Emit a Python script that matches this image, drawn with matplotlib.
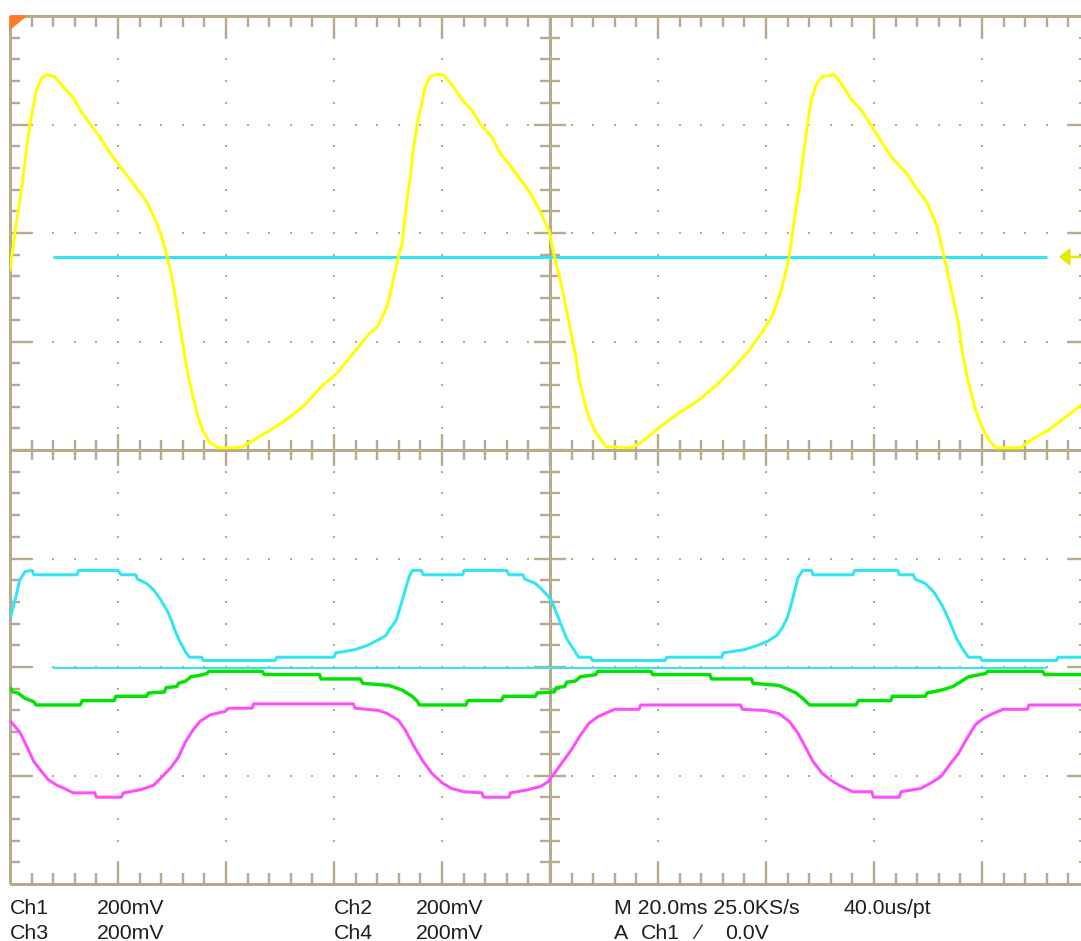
import matplotlib
matplotlib.use("Agg")
import matplotlib.pyplot as plt
from matplotlib.collections import LineCollection
from matplotlib.patches import Polygon
import numpy as np

# ---------------------------------------------------------------------------
# Captured traces: time in ms (20 ms/div), level in screen divisions (0 = centre)
# ---------------------------------------------------------------------------
ch1_t = [0.0, 0.9, 2.2, 3.1, 3.7, 4.3, 4.9, 5.9, 6.8, 8.3, 9.8, 11.7, 13.0, 14.8,
         16.7, 18.5, 19.8, 21.7, 23.5, 25.4, 27.2, 28.1, 29.1, 30.0, 30.6, 31.5,
         32.8, 33.7, 34.6, 35.7, 37.0, 38.5, 41.3, 43.1, 45.0,
         48.1, 50.6, 54.3, 58.0, 60.6, 63.5, 66.7, 68.0, 69.8, 70.7, 71.9, 72.6,
         73.1, 73.7, 74.1, 74.6, 75.6, 76.3, 76.9, 77.8, 78.7, 80.2, 81.9, 83.7,
         85.6, 87.0, 89.3, 90.7, 92.2, 94.1, 95.9, 97.8,
         99.9, 100.8, 101.8, 102.7, 103.7, 104.7, 105.3, 106.3, 107.2, 108.5,
         110.4, 115.2, 117.4, 120.3, 123.8, 127.0, 130.9, 134.1, 136.9, 139.2,
         141.1, 142.7, 143.6, 144.3, 144.9, 145.6, 146.2, 146.8, 147.8, 148.4,
         149.4, 150.4, 152.6, 153.9, 155.8, 157.7, 159.6, 161.5, 163.4, 166.0,
         167.9, 169.8, 171.7, 172.7, 173.4, 174.6, 175.6, 176.5, 177.5, 178.8,
         180.0, 181.3, 182.6, 187.1, 189.0, 192.2, 195.4, 198.3]
ch1_v = [1.66, 2.00, 2.42, 2.79, 3.01, 3.16, 3.32, 3.43, 3.46, 3.44, 3.35, 3.25, 3.13, 3.01,
         2.88, 2.74, 2.65, 2.53, 2.41, 2.28, 2.09, 1.96, 1.78, 1.59, 1.41, 1.13,
         0.74, 0.53, 0.34, 0.18, 0.07, 0.02, 0.02, 0.03, 0.09,
         0.18, 0.26, 0.40, 0.60, 0.71, 0.89, 1.08, 1.13, 1.32, 1.50, 1.78, 1.89,
         2.12, 2.37, 2.49, 2.74, 3.06, 3.20, 3.35, 3.44, 3.46, 3.46, 3.36, 3.23,
         3.13, 3.01, 2.88, 2.74, 2.65, 2.52, 2.40, 2.24,
         2.01, 1.78, 1.59, 1.38, 1.13, 0.89, 0.67, 0.46, 0.30, 0.16,
         0.03, 0.02, 0.09, 0.21, 0.34, 0.44, 0.60, 0.76, 0.92, 1.08,
         1.23, 1.45, 1.63, 1.78, 2.00, 2.24, 2.42, 2.67, 3.04, 3.23,
         3.38, 3.44, 3.46, 3.38, 3.23, 3.13, 2.98, 2.83, 2.69, 2.55,
         2.41, 2.28, 2.06, 1.84, 1.69, 1.41, 1.17, 0.86, 0.62, 0.37,
         0.21, 0.09, 0.02, 0.02, 0.09, 0.18, 0.30, 0.41]

ch2_t = [0.1, 1.1, 1.8, 2.8, 4.1, 4.4, 12.4, 12.7, 20.0, 20.6, 23.3, 23.6, 25.3,
         26.6, 27.9, 29.2, 29.9, 30.5, 31.5, 32.5, 33.2, 35.5, 35.8, 49.1, 49.4,
         60.0, 60.3, 63.9, 66.2, 68.2, 69.6, 70.5, 71.5, 72.5, 73.2, 73.9, 74.5,
         76.2, 76.5, 83.8, 84.1, 92.0, 92.4, 95.0, 95.3, 97.3, 98.6, 100.2, 101.5,
         103.1, 104.4, 105.3, 107.5, 107.9, 121.3, 121.6, 131.8, 132.1, 136.0,
         138.5, 140.4, 142.0, 143.0, 144.0, 144.9, 145.9, 146.8, 148.4, 148.7,
         156.1, 156.4, 164.4, 164.7, 167.3, 167.6, 169.5, 171.1, 172.7, 174.0,
         175.3, 176.5, 177.5, 179.7, 180.0, 193.8, 194.1, 198.4]
ch2_v = [-1.54, -1.35, -1.20, -1.12, -1.11, -1.15, -1.15, -1.11, -1.11, -1.15, -1.15, -1.19, -1.23,
         -1.29, -1.38, -1.49, -1.57, -1.66, -1.77, -1.86, -1.91, -1.91, -1.94, -1.94, -1.91,
         -1.91, -1.87, -1.84, -1.80, -1.75, -1.71, -1.64, -1.57, -1.41, -1.29, -1.17, -1.11,
         -1.11, -1.15, -1.15, -1.11, -1.11, -1.15, -1.15, -1.19, -1.23, -1.29, -1.38, -1.54,
         -1.74, -1.84, -1.91, -1.91, -1.94, -1.94, -1.91, -1.91, -1.87, -1.84,
         -1.80, -1.76, -1.71, -1.64, -1.54, -1.38, -1.18, -1.11, -1.11, -1.15,
         -1.15, -1.11, -1.11, -1.15, -1.15, -1.19, -1.23, -1.31, -1.44, -1.58,
         -1.74, -1.84, -1.91, -1.91, -1.94, -1.94, -1.91, -1.91]

ch3_t = [0.1, 0.5, 1.5, 2.8, 4.4, 4.8, 13.0, 13.4, 19.3, 19.6, 25.3, 25.6, 28.6,
         28.9, 30.9, 31.2, 32.5, 33.5, 34.8, 36.5, 36.8, 46.7, 47.1, 57.3, 57.6,
         64.9, 65.3, 70.2, 72.5, 73.5, 74.5, 75.5, 75.8, 84.4, 84.8, 91.0, 91.4,
         97.3, 97.6, 100.8, 101.2, 102.7, 103.1, 104.7, 105.6, 108.5, 108.8, 118.7,
         119.0, 129.6, 129.9, 137.3, 137.6, 142.4, 144.3, 145.6, 146.8, 148.1,
         156.7, 157.1, 163.1, 163.4, 169.5, 169.8, 172.7, 174.6, 175.9, 177.5,
         180.7, 181.0, 191.2, 191.6, 198.4]
ch3_v = [-2.20, -2.23, -2.24, -2.29, -2.32, -2.35, -2.35, -2.31, -2.31, -2.27, -2.27, -2.24, -2.23,
         -2.19, -2.18, -2.15, -2.13, -2.09, -2.08, -2.06, -2.04, -2.04, -2.07, -2.07, -2.11,
         -2.11, -2.15, -2.17, -2.21, -2.24, -2.27, -2.32, -2.35, -2.35, -2.31, -2.31, -2.27,
         -2.27, -2.24, -2.23, -2.19, -2.18, -2.14, -2.13, -2.09, -2.07, -2.04, -2.04,
         -2.07, -2.07, -2.11, -2.11, -2.15, -2.17, -2.21, -2.24, -2.29, -2.35,
         -2.35, -2.31, -2.31, -2.27, -2.27, -2.24, -2.21, -2.18, -2.14, -2.09,
         -2.06, -2.04, -2.04, -2.07, -2.07]

ch4_t = [0.1, 1.8, 3.1, 4.4, 5.8, 7.1, 8.7, 10.1, 11.7, 15.7, 16.0, 20.6, 21.0,
         24.3, 26.6, 28.2, 29.9, 31.2, 32.5, 33.9, 35.2, 37.1, 39.8, 40.5, 44.8,
         45.1, 63.6, 63.9, 68.2, 69.9, 71.9, 73.2, 74.8, 76.5, 78.1, 80.1, 81.8,
         84.1, 87.4, 87.7, 92.4, 92.7, 96.0, 98.3, 99.6, 100.8, 102.4, 104.0,
         105.6, 107.2, 108.8, 110.1, 112.0, 116.5, 116.8, 135.3, 135.6, 139.8,
         142.4, 144.3, 145.9, 147.1, 148.7, 150.4, 151.9, 153.9, 156.1, 159.6,
         159.9, 164.7, 165.0, 168.6, 170.5, 172.4, 174.0, 175.6, 177.2, 178.8,
         180.4, 182.0, 183.9, 188.4, 188.7, 198.4]
ch4_v = [-2.50, -2.60, -2.73, -2.87, -2.96, -3.04, -3.09, -3.12, -3.16, -3.16, -3.20, -3.20, -3.16,
         -3.13, -3.09, -3.01, -2.92, -2.83, -2.69, -2.58, -2.50, -2.44, -2.41, -2.38, -2.38,
         -2.34, -2.34, -2.38, -2.40, -2.43, -2.49, -2.58, -2.73, -2.87, -2.98, -3.07, -3.12,
         -3.15, -3.16, -3.20, -3.20, -3.16, -3.13, -3.10, -3.06, -2.98, -2.87, -2.76,
         -2.63, -2.52, -2.46, -2.43, -2.39, -2.39, -2.35, -2.35, -2.39, -2.40,
         -2.43, -2.50, -2.61, -2.72, -2.87, -2.98, -3.04, -3.10, -3.15, -3.15,
         -3.20, -3.20, -3.15, -3.12, -3.07, -3.01, -2.90, -2.80, -2.66, -2.53,
         -2.47, -2.43, -2.39, -2.39, -2.35, -2.35]

# reference markers (levels in divisions) and their horizontal extent in ms
ref_levels = [1.78, -2.01]
ref_widths_px = [3.0, 2.0]
ref_span = [7.9, 192.0]
trigger_level = 1.78

# status readout under the graticule
readout_row1 = ["Ch1", "200mV", "Ch2", "200mV", "M 20.0ms 25.0KS/s", "40.0us/pt"]
readout_row2 = ["Ch3", "200mV", "Ch4", "200mV", "A", "Ch1", "\u2215", "0.0V"]

# ---------------------------------------------------------------------------
W, H, DPI = 1081, 941, 100
MS_PER_DIV = 20.0
PX_PER_HDIV, PX_PER_VDIV = 108.0, 108.5
T_MAX = (W - 10) / PX_PER_HDIV * MS_PER_DIV
PX_T = MS_PER_DIV / PX_PER_HDIV     # ms per screen pixel
PX_V = 1.0 / PX_PER_VDIV            # div per screen pixel
PT = 72.0 / DPI                     # points per pixel

GRID = "#b8aa8c"
YELLOW = "#ffff00"
CYAN = "#2fe6f2"
GREEN = "#00e400"
MAGENTA = "#ff4cff"

fig = plt.figure(figsize=(W / DPI, H / DPI), dpi=DPI)
fig.patch.set_facecolor("white")
ax = fig.add_axes([10 / W, (H - 884) / H, (W - 10) / W, 868 / H])
ax.set_xlim(0, T_MAX)
ax.set_ylim(-4, 4)
ax.axis("off")

minor_t = [round(k * 4.0, 3) for k in range(1, 50)]
minor_v = [round(k * 0.2, 3) for k in range(-19, 20)]
major_t = [20, 40, 60, 80, 120, 140, 160, 180]
major_v = [-3, -2, -1, 1, 2, 3]


def is_major_t(t):
    return abs(t / 20.0 - round(t / 20.0)) < 1e-6


def is_major_v(v):
    return abs(v - round(v)) < 1e-6


segs = []
# top / bottom border ticks
for t in minor_t:
    L = (22 if is_major_t(t) else 11) * PX_V
    segs.append([(t, 4), (t, 4 - L)])
    segs.append([(t, -4), (t, -4 + L)])
# left border ticks
for v in minor_v:
    L = (22 if is_major_v(v) else 10) * PX_T
    segs.append([(0, v), (L, v)])
# centre vertical line ticks
for v in minor_v:
    L = (16 if is_major_v(v) else 10) * PX_T
    segs.append([(100 - L, v), (100 + L, v)])
# centre horizontal line ticks
for t in minor_t:
    L = (16 if is_major_t(t) else 10) * PX_V
    segs.append([(t, -L), (t, L)])
# right edge ticks on the major levels
for v in major_v:
    segs.append([(T_MAX - 13 * PX_T, v), (T_MAX, v)])
ax.add_collection(LineCollection(segs, colors=GRID, linewidths=2.4 * PT,
                                 zorder=1, clip_on=False))

# frame and centre cross
frame = [[(0, -4), (0, 4)], [(0, 4), (T_MAX, 4)], [(0, -4), (T_MAX, -4)],
         [(100, -4), (100, 4)], [(0, 0), (T_MAX, 0)]]
ax.add_collection(LineCollection(frame, colors=GRID, linewidths=3.0 * PT,
                                 zorder=1, clip_on=False))

# dotted graticule
dots_t, dots_v = [], []
for t in major_t:
    for v in minor_v:
        dots_t.append(t)
        dots_v.append(v)
for v in major_v:
    for t in minor_t:
        dots_t.append(t)
        dots_v.append(v)
for v in minor_v:
    if not is_major_v(v):
        dots_t.append(T_MAX - 1.0 * PX_T)
        dots_v.append(v)
ax.scatter(dots_t, dots_v, marker="s", s=(2.3 * PT) ** 2, color=GRID,
           linewidths=0, zorder=1)

# reference markers
for lvl, lw in zip(ref_levels, ref_widths_px):
    ax.plot(ref_span, [lvl, lvl], color=CYAN, lw=lw * PT, zorder=2,
            solid_capstyle="butt")

# channel traces
ax.plot(ch2_t, ch2_v, color=CYAN, lw=3.0 * PT, zorder=3)
ax.plot(ch3_t, ch3_v, color=GREEN, lw=3.4 * PT, zorder=3)
ax.plot(ch4_t, ch4_v, color=MAGENTA, lw=3.0 * PT, zorder=3)
ax.plot(ch1_t, ch1_v, color=YELLOW, lw=3.0 * PT, zorder=4)

# trigger level arrow at the right edge
tip = T_MAX - 21 * PX_T
base = T_MAX - 11 * PX_T
ax.add_patch(Polygon([(tip, trigger_level),
                      (base, trigger_level + 8 * PX_V),
                      (base, trigger_level - 8 * PX_V)],
                     closed=True, color="#e8e800", zorder=5, clip_on=False))
ax.plot([base, T_MAX], [trigger_level, trigger_level], color="#e8e800",
        lw=2.5 * PT, zorder=5, clip_on=False)

# corner marker
ax.add_patch(Polygon([(0, 4), (16 * PX_T, 4), (0, 4 - 13 * PX_V)], closed=True,
                     color="#ff7a22", zorder=6, clip_on=False))

# readout text
font = dict(family=["Liberation Sans", "DejaVu Sans"], size=15.3,
            color="#1e1e1e", va="baseline", ha="left")
row1_x = [10, 97, 334, 416, 614, 844]
row2_x = [10, 97, 334, 416, 614, 641, 696, 725]
for s, x in zip(readout_row1, row1_x):
    fig.text(x / W, 1 - 914 / H, s, **font)
for s, x in zip(readout_row2, row2_x):
    fig.text(x / W, 1 - 939 / H, s, **font)

fig.savefig("out.png", dpi=DPI, facecolor="white")
